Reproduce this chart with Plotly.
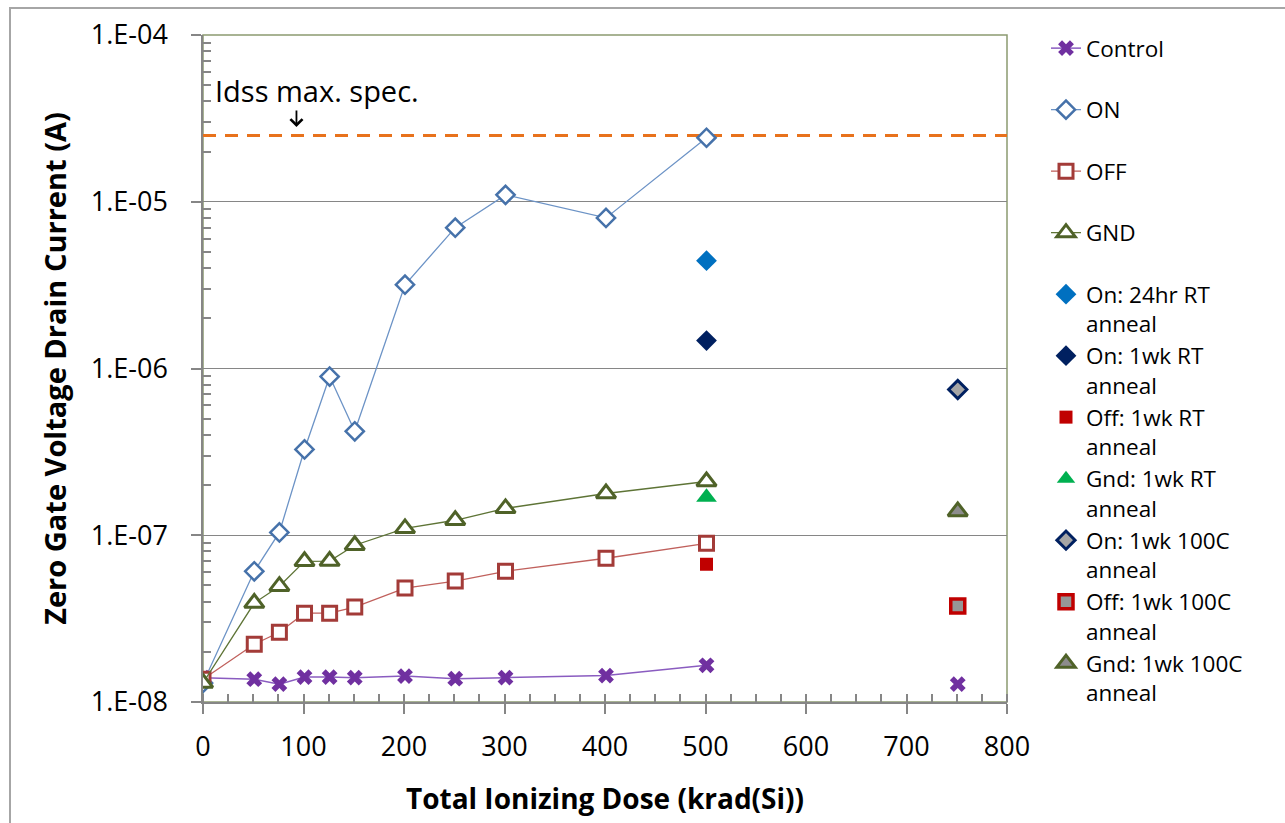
import math
import plotly.graph_objects as go

# ---- data ----
dose = [0, 51, 76, 101, 126, 151, 201, 251, 301, 401, 501]
control = [1.40e-8, 1.37e-8, 1.28e-8, 1.41e-8, 1.41e-8, 1.40e-8, 1.43e-8, 1.38e-8, 1.40e-8, 1.44e-8, 1.66e-8]
on_bias = [1.30e-8, 6.08e-8, 1.04e-7, 3.27e-7, 8.95e-7, 4.20e-7, 3.18e-6, 6.99e-6, 1.10e-5, 8.00e-6, 2.42e-5]
off_bias = [1.37e-8, 2.22e-8, 2.62e-8, 3.41e-8, 3.41e-8, 3.71e-8, 4.82e-8, 5.31e-8, 6.08e-8, 7.28e-8, 8.95e-8]
gnd_bias = [1.30e-8, 3.92e-8, 4.95e-8, 6.98e-8, 7.00e-8, 8.71e-8, 1.10e-7, 1.23e-7, 1.45e-7, 1.78e-7, 2.10e-7]

control_extra_dose = [751]
control_extra = [1.28e-8]

rt_dose = [501]
on_24hr_rt = [4.43e-6]
on_1wk_rt = [1.47e-6]
off_1wk_rt = [6.70e-8]
gnd_1wk_rt = [1.69e-7]

hot_dose = [751]
on_1wk_100c = [7.48e-7]
off_1wk_100c = [3.76e-8]
gnd_1wk_100c = [1.39e-7]

spec_dose = [0, 800]
spec_limit = [2.5e-5, 2.5e-5]
spec_label = "Idss max. spec."

y_tickvals = [1e-8, 1e-7, 1e-6, 1e-5, 1e-4]
y_ticktext = ["1.E-08", "1.E-07", "1.E-06", "1.E-05", "1.E-04"]
x_tickvals = [0, 100, 200, 300, 400, 500, 600, 700, 800]

FONT = "Open Sans"
NB = "\u00a0"


def lg(line1, line2=NB):
    return f"{line1}<br>{line2}"


fig = go.Figure()

fig.add_trace(go.Scatter(x=spec_dose, y=spec_limit, mode="lines", showlegend=False,
                         line=dict(color="#E8721C", width=3, dash="13px,9px"), hoverinfo="skip"))

ctrl_marker = dict(symbol="x", size=14, color="#7030A0", line=dict(width=0))
fig.add_trace(go.Scatter(x=dose, y=control, mode="lines+markers", name=lg("Control"),
                         legendgroup="c", line=dict(color="#8A5CC0", width=1.5), marker=ctrl_marker))
fig.add_trace(go.Scatter(x=control_extra_dose, y=control_extra, mode="markers", showlegend=False,
                         legendgroup="c", marker=ctrl_marker))
fig.add_trace(go.Scatter(x=dose, y=on_bias, mode="lines+markers", name=lg("ON"),
                         line=dict(color="#6C93C6", width=1.3),
                         marker=dict(symbol="diamond", size=14, color="white",
                                     line=dict(color="#4672AA", width=2.5))))
fig.add_trace(go.Scatter(x=dose, y=off_bias, mode="lines+markers", name=lg("OFF"),
                         line=dict(color="#C0605C", width=1.3),
                         marker=dict(symbol="square", size=14, color="white",
                                     line=dict(color="#A33B38", width=3))))
fig.add_trace(go.Scatter(x=dose, y=gnd_bias, mode="lines+markers", name=lg("GND"),
                         line=dict(color="#5E7436", width=1.3),
                         marker=dict(symbol="triangle-up", size=17, color="white",
                                     line=dict(color="#4F6228", width=3))))

fig.add_trace(go.Scatter(x=rt_dose, y=on_24hr_rt, mode="markers", name=lg("On: 24hr RT", "anneal"),
                         marker=dict(symbol="diamond", size=16, color="#0070C0", line=dict(width=0))))
fig.add_trace(go.Scatter(x=rt_dose, y=on_1wk_rt, mode="markers", name=lg("On: 1wk RT", "anneal"),
                         marker=dict(symbol="diamond", size=16, color="#002060", line=dict(width=0))))
fig.add_trace(go.Scatter(x=rt_dose, y=off_1wk_rt, mode="markers", name=lg("Off: 1wk RT", "anneal"),
                         marker=dict(symbol="square", size=13, color="#C00000", line=dict(width=0))))
fig.add_trace(go.Scatter(x=rt_dose, y=gnd_1wk_rt, mode="markers", name=lg("Gnd: 1wk RT", "anneal"),
                         marker=dict(symbol="triangle-up", size=18, color="#00B050", line=dict(width=0))))
fig.add_trace(go.Scatter(x=hot_dose, y=on_1wk_100c, mode="markers", name=lg("On: 1wk 100C", "anneal"),
                         marker=dict(symbol="diamond", size=14, color="#A6A6A6",
                                     line=dict(color="#002060", width=3))))
fig.add_trace(go.Scatter(x=hot_dose, y=off_1wk_100c, mode="markers", name=lg("Off: 1wk 100C", "anneal"),
                         marker=dict(symbol="square", size=14, color="#969696",
                                     line=dict(color="#C00000", width=3.5))))
fig.add_trace(go.Scatter(x=hot_dose, y=gnd_1wk_100c, mode="markers", name=lg("Gnd: 1wk 100C", "anneal"),
                         marker=dict(symbol="triangle-up", size=17, color="#8C8C8C",
                                     line=dict(color="#4F6228", width=3))))

ML, MR, MT, MB = 203, 278, 35, 121
W, H = 1285, 823
pw, ph = W - ML - MR, H - MT - MB


def px_x(p):
    return (p - ML) / pw


def px_y(p):
    return 1 - (p - MT) / ph


axis_gray = "#868686"

fig.update_layout(
    width=W, height=H,
    margin=dict(l=ML, r=MR, t=MT, b=MB, pad=0),
    paper_bgcolor="white", plot_bgcolor="white",
    font=dict(family=FONT, color="black"),
    xaxis=dict(range=[0, 800], tickvals=x_tickvals, showgrid=False, zeroline=False,
               showline=True, linecolor=axis_gray, linewidth=1.5,
               ticks="outside", ticklen=10, tickcolor=axis_gray, tickwidth=1.5,
               tickfont=dict(size=27, family=FONT, color="black"),
               ticklabelstandoff=10,
               minor=dict(ticks="inside", dtick=25, ticklen=8, tickcolor=axis_gray, tickwidth=1.5),
               title=dict(text="<b>Total Ionizing Dose (krad(Si))</b>",
                          font=dict(size=28, family=FONT, color="black"), standoff=26)),
    yaxis=dict(type="log", range=[-8, -4], tickvals=y_tickvals, ticktext=y_ticktext,
               showgrid=True, gridcolor=axis_gray, gridwidth=1.2, zeroline=False,
               showline=True, linecolor=axis_gray, linewidth=1.5,
               ticks="outside", ticklen=10, tickcolor=axis_gray, tickwidth=1.5,
               tickfont=dict(size=27, family=FONT, color="black"),
               ticklabelstandoff=18,
               minor=dict(ticks="inside", ticklen=8, tickcolor=axis_gray, tickwidth=1.5,
                          tickvals=[m * 10 ** e for e in range(-8, -4) for m in range(2, 10)]),
               title=dict(text="<b>Zero Gate Voltage Drain Current (A)</b>",
                          font=dict(size=29, family=FONT, color="black"), standoff=16)),
    legend=dict(x=px_x(1046), y=px_y(27), xanchor="left", yanchor="top",
                font=dict(size=22.5, family=FONT, color="black"),
                valign="top", bgcolor="rgba(0,0,0,0)", tracegroupgap=0,
                itemwidth=30, maxheight=1000),
    showlegend=True,
)

# plot-area frame (olive) and outer chart border (gray)
fig.add_shape(type="rect", xref="x domain", yref="y domain", x0=0, x1=1, y0=0, y1=1,
              line=dict(color="#8C9A70", width=1.5), layer="below")
fig.add_shape(type="rect", xref="paper", yref="paper",
              x0=px_x(10), x1=px_x(1300), y0=px_y(840), y1=px_y(8),
              line=dict(color="#A6A6A6", width=2))

# spec annotation (log axis -> annotation y in log10 units)
fig.add_annotation(x=10, y=-4.33, xref="x", yref="y", text=spec_label, showarrow=False,
                   xanchor="left", yanchor="middle", font=dict(size=29, family=FONT, color="black"))
fig.add_annotation(x=93, y=math.log10(spec_limit[0]) + 0.05, xref="x", yref="y",
                   text="", showarrow=True, ax=0, ay=-18, axref="pixel", ayref="pixel",
                   arrowhead=4, arrowsize=1.3, arrowwidth=1.8, arrowcolor="black")

fig.write_html("out.html", config={"displayModeBar": False},
               post_script="document.body.style.margin='0';document.body.style.overflow='hidden';")
